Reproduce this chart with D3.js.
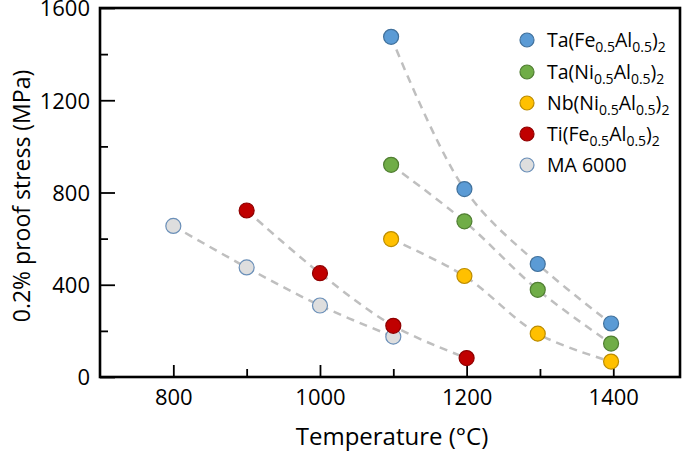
<!DOCTYPE html>
<html><head><meta charset="utf-8">
<script src="https://cdn.jsdelivr.net/npm/d3@7"></script>
<style>body{margin:0;background:#fff}svg{display:block}text{font-family:"Open Sans",sans-serif;fill:#000}</style>
</head><body>
<script>
const seriesNames = ["Ta(Fe0.5Al0.5)2","Ta(Ni0.5Al0.5)2","Nb(Ni0.5Al0.5)2","Ti(Fe0.5Al0.5)2","MA 6000"];
const taFeAlT = [1097,1197,1297,1397];
const taFeAlS = [1475,815,490,232];
const taNiAlT = [1097,1197,1297,1397];
const taNiAlS = [920,675,378,145];
const nbNiAlT = [1097,1197,1297,1397];
const nbNiAlS = [598,438,188,67];
const tiFeAlT = [900,1000,1100,1200];
const tiFeAlS = [722,450,222,82];
const ma6000T = [800,900,1000,1100];
const ma6000S = [655,475,310,175];
const xMajor = [800,1000,1200,1400];
const xMinor = [900,1100,1300];
const yMajor = [0,400,800,1200,1600];
const yMinor = [200,600,1000,1400];
const fills = ["#5b9bd5","#70ad47","#ffc000","#c00000","#dedede"];
const strokes = ["#41719c","#507e32","#bc8c00","#8f0000","#6a8fb8"];

const W=685,H=452, L=100,T=8,R=680,B=377;
const svg=d3.select("body").append("svg").attr("width",W).attr("height",H);
const x=d3.scaleLinear().domain([700,1491]).range([L,R]);
const y=d3.scaleLinear().domain([0,1600]).range([B,T]);

const series=[[taFeAlT,taFeAlS],[taNiAlT,taNiAlS],[nbNiAlT,nbNiAlS],[tiFeAlT,tiFeAlS],[ma6000T,ma6000S]]
  .map((d,i)=>({name:seriesNames[i],pts:d[0].map((t,j)=>({t,s:d[1][j]})),i}));

// axes ticks
const gx=svg.append("g").attr("transform",`translate(0,${B})`);
gx.call(d3.axisBottom(x).tickValues(xMajor).tickSize(-12).tickPadding(12).tickFormat(d3.format("d")));
const gxm=svg.append("g").attr("transform",`translate(0,${B})`);
gxm.call(d3.axisBottom(x).tickValues(xMinor).tickSize(-8).tickFormat(""));
const gy=svg.append("g").attr("transform",`translate(${L},0)`);
gy.call(d3.axisLeft(y).tickValues(yMajor).tickSize(-15).tickPadding(10).tickFormat(d3.format("d")));
const gym=svg.append("g").attr("transform",`translate(${L},0)`);
gym.call(d3.axisLeft(y).tickValues(yMinor).tickSize(-8).tickFormat(""));
svg.selectAll(".domain").remove();
gxm.selectAll(".tick text").remove();
gym.selectAll(".tick text").remove();
svg.selectAll(".tick line").attr("stroke","#000").attr("stroke-width",1.8);
svg.selectAll(".tick text").style("font-size","22px").style("font-family","'Open Sans',sans-serif").attr("fill","#000");
gy.selectAll(".tick text").attr("dy","0.36em");

// frame
svg.append("rect").attr("x",L).attr("y",T).attr("width",R-L).attr("height",B-T)
  .attr("fill","none").attr("stroke","#000").attr("stroke-width",2.6);

// lines
const line=d3.line().x(d=>x(d.t)).y(d=>y(d.s)).curve(d3.curveCatmullRom.alpha(0.5));
svg.append("g").selectAll("path").data(series).join("path")
  .attr("d",d=>line(d.pts)).attr("fill","none").attr("stroke","#bfbfbf")
  .attr("stroke-width",2.5).attr("stroke-dasharray","8,6");

// markers (draw MA6000 first so red overlaps it)
const order=[4,0,1,2,3];
order.forEach(k=>{
  const s=series[k];
  svg.append("g").selectAll("circle").data(s.pts).join("circle")
    .attr("cx",d=>x(d.t)).attr("cy",d=>y(d.s)).attr("r",7.5)
    .attr("fill",fills[k]).attr("stroke",strokes[k]).attr("stroke-width",1.2);
});

// axis titles
svg.append("text").attr("x",392).attr("y",445).attr("text-anchor","middle")
  .style("font-size","24px").text("Temperature (°C)");
svg.append("text").attr("transform","translate(30,196) rotate(-90)").attr("text-anchor","middle")
  .style("font-size","23px").text("0.2% proof stress (MPa)");

// legend
const lg=svg.append("g");
const ly=[40,72,103,134,165];
const parts=[
  [["Ta(Fe",0],["0.5",1],["Al",0],["0.5",1],[")",0],["2",1]],
  [["Ta(Ni",0],["0.5",1],["Al",0],["0.5",1],[")",0],["2",1]],
  [["Nb(Ni",0],["0.5",1],["Al",0],["0.5",1],[")",0],["2",1]],
  [["Ti(Fe",0],["0.5",1],["Al",0],["0.5",1],[")",0],["2",1]],
  [["MA 6000",0]]
];
series.forEach((s,i)=>{
  lg.append("circle").attr("cx",527).attr("cy",ly[i]).attr("r",7)
    .attr("fill",fills[i]).attr("stroke",strokes[i]).attr("stroke-width",1.2);
  const t=lg.append("text").attr("x",547).attr("y",ly[i]+7).style("font-size","19.5px");
  let prevSub=false;
  parts[i].forEach(p=>{
    const sp=t.append("tspan").text(p[0]).style("font-size",p[1]?"14px":"19.5px");
    if(p[1] && !prevSub) sp.attr("dy","4.5");
    if(!p[1] && prevSub) sp.attr("dy","-4.5");
    prevSub=!!p[1];
  });
});
</script>
</body></html>
